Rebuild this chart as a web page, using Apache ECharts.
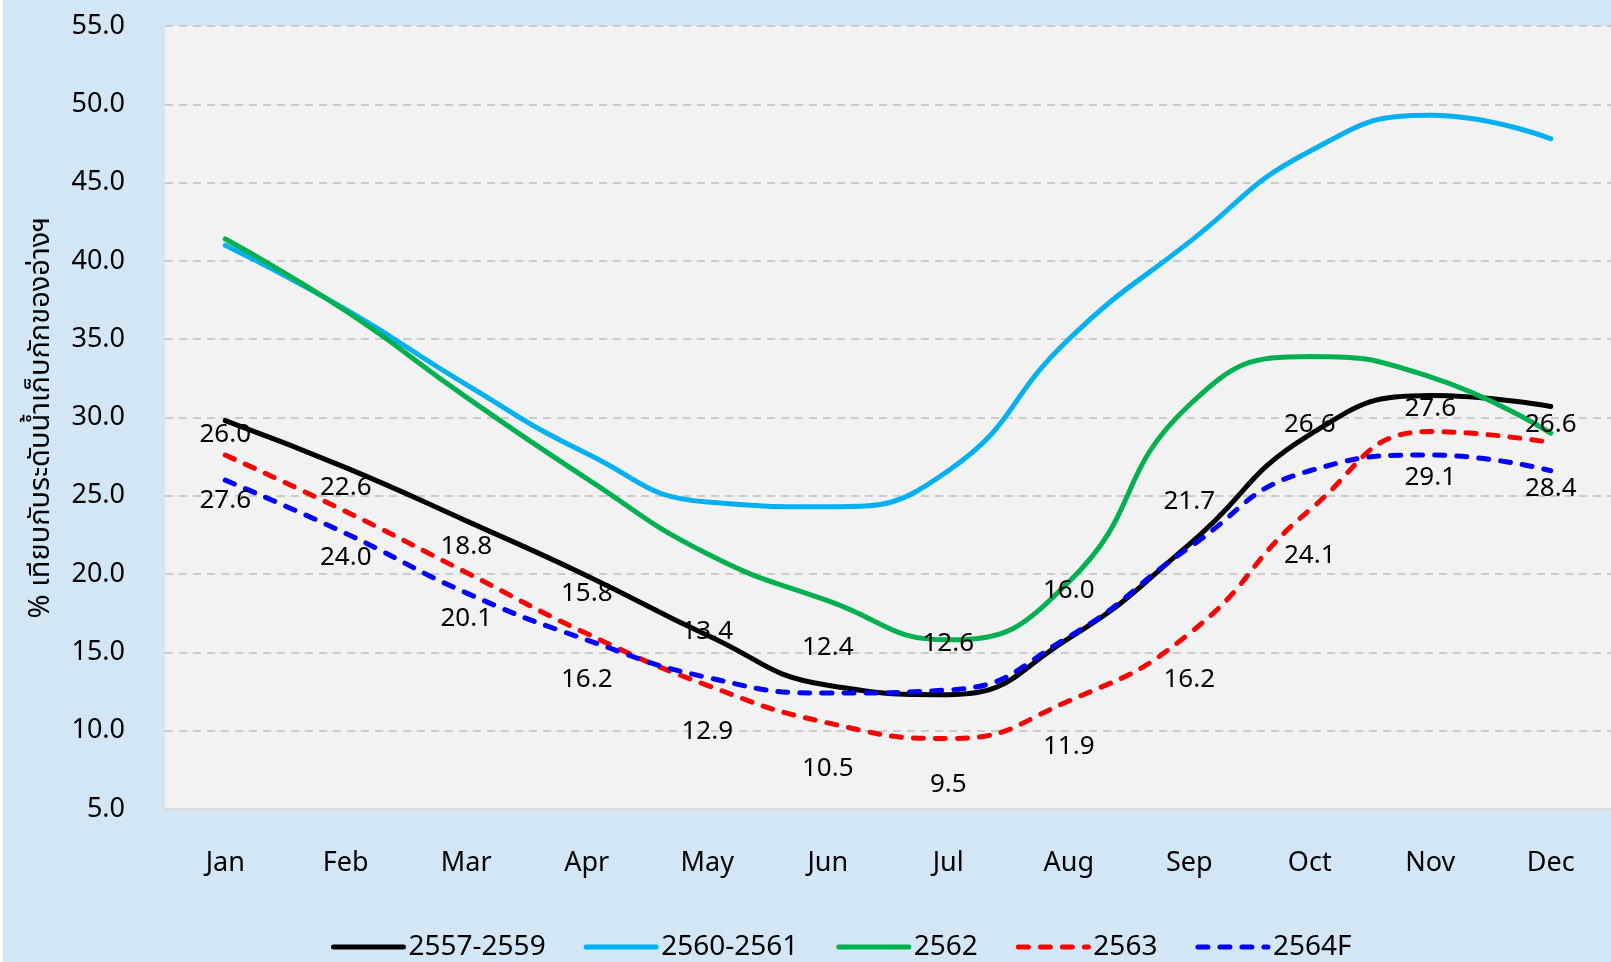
<!DOCTYPE html>
<html>
<head>
<meta charset="utf-8">
<script src="https://cdn.jsdelivr.net/npm/echarts@6/dist/echarts.min.js"></script>
<style>
html,body{margin:0;padding:0;background:#D2E6F5;}
#c{width:1611px;height:962px;}
</style>
</head>
<body>
<div id="c"></div>
<script>
const months = ['Jan','Feb','Mar','Apr','May','Jun','Jul','Aug','Sep','Oct','Nov','Dec'];
const s2557_2559 = [29.8, 26.8, 23.4, 19.9, 16.1, 12.9, 12.3, 15.9, 21.9, 28.9, 31.4, 30.7];
const s2560_2561 = [41.0, 36.9, 32.1, 27.7, 24.6, 24.3, 26.6, 35.0, 41.2, 47.0, 49.3, 47.8];
const s2562 = [41.4, 36.8, 31.3, 26.1, 21.3, 18.3, 15.8, 19.5, 30.8, 33.9, 32.6, 29.0];
const s2563 = [27.6, 24.0, 20.1, 16.2, 12.9, 10.5, 9.5, 11.9, 16.2, 24.1, 29.1, 28.4];
const s2564F = [26.0, 22.6, 18.8, 15.8, 13.4, 12.4, 12.6, 16.0, 21.7, 26.6, 27.6, 26.6];
const seriesNames = ['2557-2559','2560-2561','2562','2563','2564F'];
const yAxisTitle = '% เทียบกับระดับน้ำเก็บกักของอ่างฯ';

const FONT = '"Noto Sans", "Noto Sans Thai", "DejaVu Sans", sans-serif';
const chart = echarts.init(document.getElementById('c'));

function solid(name, data, color) {
  return {
    name, type: 'line', data, smooth: 0.5, symbol: 'circle', symbolSize: 0.01,
    showSymbol: true,
    lineStyle: { color, width: 5, cap: 'round', join: 'round' },
    itemStyle: { color }
  };
}
function dashed(name, data, color, pos) {
  return {
    name, type: 'line', data, smooth: 0.5, symbol: 'circle', symbolSize: 0.01,
    showSymbol: true,
    lineStyle: { color, width: 5, type: [10, 12], cap: 'round', join: 'round' },
    itemStyle: { color },
    label: {
      show: true, position: pos, distance: 33,
      formatter: p => p.value.toFixed(1),
      color: '#000', fontSize: 26, fontFamily: FONT
    },
    z: 3
  };
}

chart.setOption({
  backgroundColor: '#D2E6F5',
  animation: false,
  textStyle: { fontFamily: FONT },
  graphic: [{ type: 'rect', shape: { x: 0, y: 0, width: 3, height: 962 }, style: { fill: '#FFFFFF' }, silent: true }],
  grid: {
    left: 165, top: 26, width: 1458, height: 783,
    show: true, backgroundColor: '#F2F2F2', borderWidth: 0
  },
  legend: {
    top: 928, left: 326,
    itemWidth: 70, itemHeight: 14, itemGap: 38,
    itemStyle: { opacity: 0 },
    lineStyle: { width: 5, cap: 'round' },
    textStyle: { fontSize: 28, color: '#000', fontFamily: FONT },
    data: seriesNames
  },
  xAxis: {
    type: 'category', data: months, boundaryGap: true,
    axisLine: { show: true, lineStyle: { color: '#D9D9D9', width: 2 } },
    axisTick: { show: false },
    axisLabel: { color: '#000', fontSize: 27, margin: 41, fontFamily: FONT },
    splitLine: { show: false }
  },
  yAxis: {
    type: 'value', min: 5, max: 55, interval: 5,
    name: yAxisTitle, nameLocation: 'middle', nameRotate: 90, nameGap: 110,
    nameTextStyle: { fontSize: 29, color: '#000', fontFamily: FONT },
    axisLine: { show: false }, axisTick: { show: false },
    axisLabel: {
      color: '#000', fontSize: 27, margin: 40, fontFamily: FONT,
      padding: [0, 0, 18, 0],
      formatter: v => v.toFixed(1)
    },
    splitLine: { show: true, lineStyle: { color: '#BFBFBF', width: 1.5, type: [8, 6] } }
  },
  series: [
    solid(seriesNames[0], s2557_2559, '#000000'),
    solid(seriesNames[1], s2560_2561, '#00B0F0'),
    solid(seriesNames[2], s2562, '#00B050'),
    dashed(seriesNames[3], s2563, '#FF0000', 'bottom'),
    dashed(seriesNames[4], s2564F, '#0000FF', 'top')
  ]
});
</script>
</body>
</html>
